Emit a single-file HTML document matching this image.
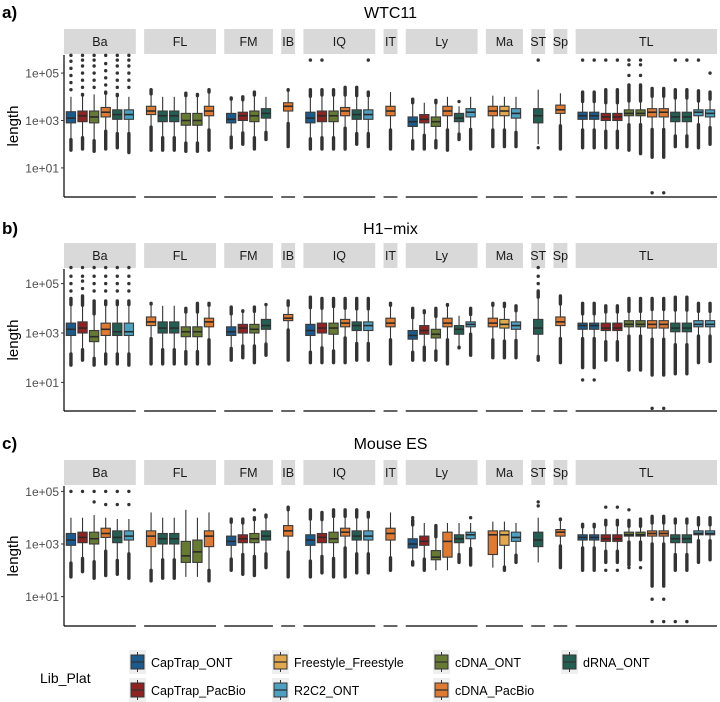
<!DOCTYPE html>
<html><head><meta charset="utf-8"><style>
body{margin:0;background:#fff;width:720px;height:702px;overflow:hidden;font-family:"Liberation Sans",sans-serif}
svg{display:block}
</style></head><body>
<svg id="chart" width="720" height="702" viewBox="0 0 720 702"></svg>
<script>
const facets=["Ba","FL","FM","IB","IQ","IT","Ly","Ma","ST","Sp","TL"];
const yTicks=[1,3,5];
const yTickLabels=["1e+01","1e+03","1e+05"];
const panelTitles=["WTC11","H1\u2212mix","Mouse ES"];
const panelTags=["a)","b)","c)"];
const libCodes=["B","R","F","L","G","O","D"];
const libNames=["CapTrap_ONT","CapTrap_PacBio","Freestyle_Freestyle","R2C2_ONT","cDNA_ONT","cDNA_PacBio","dRNA_ONT"];
const libColors=["#1d5a8c","#8e2323","#e1a84f","#4f9fc0","#667a34","#dd7a34","#245e52"];
// box: [lib, q1, median, q3, lowest, highest, extra points] (log10 length)
const dataA=[
[["B",2.9,3.1,3.37,1.75,4.0,[4.3,4.6,4.9,5.2,5.5,5.75]],["R",2.95,3.2,3.4,1.8,4.1,[4.4,4.7,5.0,5.3,5.55,5.75]],["G",2.9,3.15,3.4,1.7,4.1,[4.4,4.7,5.0,5.3,5.55,5.75]],["O",3.15,3.35,3.55,1.8,4.2,[4.5,4.8,5.1,5.4,5.75]],["D",3.05,3.25,3.45,1.85,4.1,[4.4,4.7,5.0,5.3,5.55,5.75]],["L",3.05,3.25,3.45,1.7,4.0,[4.4,4.7,5.0,5.3,5.55,5.75,1.65]]],
[["O",3.25,3.4,3.6,1.75,4.3,[]],["D",2.95,3.2,3.4,1.75,4.0,[]],["D",2.95,3.2,3.4,1.75,4.0,[]],["G",2.8,3.0,3.3,1.7,4.15,[]],["G",2.8,3.0,3.3,1.7,4.1,[]],["O",3.2,3.4,3.6,1.75,4.3,[]]],
[["B",2.9,3.05,3.3,1.85,3.95,[]],["R",3.0,3.2,3.35,2.0,4.0,[]],["G",2.95,3.2,3.4,1.8,4.2,[]],["D",3.1,3.3,3.5,2.2,4.0,[]]],
[["O",3.4,3.6,3.75,1.9,4.3,[]]],
[["B",2.9,3.1,3.35,1.8,4.3,[5.55]],["R",2.95,3.2,3.4,1.8,4.3,[5.55]],["G",2.95,3.2,3.4,1.8,4.3,[]],["O",3.2,3.4,3.55,1.8,4.4,[]],["D",3.05,3.25,3.45,2.0,4.4,[]],["L",3.05,3.25,3.45,1.9,4.2,[5.55]]],
[["O",3.2,3.4,3.6,1.8,4.2,[]]],
[["B",2.75,2.95,3.15,1.8,3.9,[]],["R",2.9,3.05,3.25,1.8,3.75,[]],["G",2.75,2.95,3.15,1.85,3.85,[]],["O",3.2,3.4,3.6,1.75,4.0,[]],["D",2.95,3.1,3.3,2.2,3.6,[3.8]],["L",3.15,3.35,3.5,1.8,4.0,[]]],
[["O",3.2,3.4,3.6,1.9,4.05,[]],["F",3.2,3.4,3.6,1.9,4.0,[]],["L",3.1,3.3,3.5,1.9,4.0,[]]],
[["D",2.9,3.2,3.5,2.0,4.3,[5.55,1.85]]],
[["O",3.3,3.45,3.65,1.8,4.15,[]]],
[["B",3.05,3.2,3.35,1.85,4.2,[5.55]],["B",3.05,3.2,3.35,1.85,4.2,[5.55]],["R",3.0,3.15,3.3,1.85,4.3,[5.55]],["R",3.0,3.15,3.3,1.85,4.3,[5.55]],["G",3.2,3.3,3.45,1.75,4.5,[5.55,5.35,4.9]],["G",3.2,3.3,3.45,1.6,4.5,[5.55,5.35,4.9]],["O",3.15,3.35,3.5,1.45,4.35,[-0.05]],["O",3.15,3.35,3.5,1.45,4.35,[-0.05]],["D",2.95,3.15,3.35,1.9,4.3,[5.55]],["D",2.95,3.15,3.35,1.9,4.3,[5.55]],["L",3.2,3.35,3.45,1.9,4.25,[5.55,1.85]],["L",3.15,3.3,3.45,2.0,4.2,[5.0]]]
];
const dataB=[
[["B",2.9,3.15,3.4,1.7,4.4,[4.7,5.0,5.3,5.65]],["R",3.0,3.2,3.45,1.9,4.5,[4.8,5.1,5.3,5.65]],["G",2.65,2.85,3.1,1.7,4.3,[4.7,5.0,5.3,5.65]],["O",2.9,3.15,3.4,1.75,4.3,[4.7,5.0,5.3,5.65]],["D",2.9,3.05,3.4,1.75,4.3,[4.7,5.0,5.3,5.65]],["L",2.9,3.05,3.4,1.7,4.3,[4.7,5.0,5.3,5.65]]],
[["O",3.3,3.45,3.65,1.75,4.2,[]],["D",3.0,3.2,3.45,1.75,4.1,[]],["D",3.0,3.2,3.45,1.75,4.1,[]],["G",2.85,3.05,3.25,1.75,4.0,[]],["G",2.85,3.05,3.25,1.75,4.2,[]],["O",3.25,3.45,3.6,1.75,4.2,[]]],
[["B",2.9,3.05,3.25,1.9,4.05,[]],["R",3.0,3.2,3.35,2.0,3.9,[]],["G",3.0,3.15,3.35,1.8,4.05,[]],["D",3.15,3.3,3.55,2.1,4.15,[]]],
[["O",3.5,3.6,3.75,1.9,4.3,[]]],
[["B",2.9,3.1,3.35,1.8,4.45,[]],["R",3.0,3.2,3.4,1.8,4.4,[]],["G",2.95,3.2,3.4,1.8,4.4,[]],["O",3.25,3.4,3.55,1.8,4.4,[]],["D",3.1,3.3,3.45,1.9,4.4,[]],["L",3.1,3.3,3.45,1.9,4.4,[]]],
[["O",3.25,3.4,3.6,1.75,4.2,[]]],
[["B",2.75,2.9,3.1,1.9,4.0,[]],["R",2.95,3.1,3.3,1.9,3.9,[]],["G",2.8,2.95,3.15,1.9,4.0,[]],["O",3.25,3.4,3.6,1.75,4.15,[]],["D",2.95,3.15,3.3,2.4,3.7,[]],["L",3.25,3.35,3.45,2.1,4.0,[]]],
[["O",3.25,3.4,3.6,2.0,4.2,[]],["F",3.2,3.35,3.55,2.0,4.2,[]],["L",3.15,3.3,3.45,2.0,4.1,[]]],
[["D",2.95,3.2,3.55,1.9,4.7,[5.0,5.3,5.65]]],
[["O",3.3,3.45,3.65,1.8,4.5,[]]],
[["B",3.15,3.3,3.4,1.6,4.2,[1.1]],["B",3.15,3.3,3.4,1.6,4.2,[1.1]],["R",3.1,3.2,3.4,1.9,4.1,[]],["R",3.1,3.2,3.4,1.9,4.1,[]],["G",3.25,3.35,3.5,1.5,4.4,[]],["G",3.25,3.35,3.5,1.5,4.4,[]],["O",3.2,3.35,3.5,1.3,4.4,[-0.05]],["O",3.2,3.35,3.5,1.3,4.4,[-0.05]],["D",3.05,3.2,3.4,1.35,4.45,[]],["D",3.05,3.2,3.4,1.35,4.45,[]],["L",3.25,3.35,3.5,1.8,4.2,[]],["L",3.25,3.35,3.5,1.85,4.2,[]]]
];
const dataC=[
[["B",2.95,3.15,3.4,1.75,4.0,[5.0]],["R",3.05,3.25,3.45,1.95,4.0,[5.0]],["G",3.0,3.2,3.45,1.7,4.1,[4.6,5.0]],["O",3.25,3.4,3.6,1.8,4.0,[4.5,5.0]],["D",3.05,3.25,3.5,1.85,3.95,[4.5,5.0]],["L",3.15,3.3,3.5,1.7,3.95,[4.5,5.0]]],
[["O",2.9,3.3,3.5,1.6,4.2,[]],["D",3.0,3.2,3.4,1.7,4.0,[]],["D",3.0,3.2,3.4,1.7,4.0,[]],["G",2.3,2.55,3.1,1.75,4.3,[]],["G",2.3,2.7,3.15,1.75,4.0,[]],["O",2.9,3.3,3.5,1.6,4.2,[]]],
[["B",2.95,3.1,3.3,2.0,3.95,[]],["R",3.05,3.2,3.35,1.85,3.95,[]],["G",3.05,3.2,3.4,1.8,4.0,[4.3]],["D",3.15,3.3,3.5,2.1,4.1,[]]],
[["O",3.3,3.5,3.7,1.75,4.4,[]]],
[["B",2.95,3.15,3.35,1.75,4.3,[]],["R",3.05,3.25,3.4,1.9,4.2,[]],["G",3.05,3.2,3.45,1.75,4.3,[]],["O",3.3,3.45,3.6,1.75,4.3,[]],["D",3.15,3.3,3.5,1.9,4.3,[]],["L",3.15,3.3,3.5,1.9,4.2,[]]],
[["O",3.15,3.4,3.6,2.0,4.2,[]]],
[["B",2.85,3.0,3.2,2.2,3.9,[4.0]],["R",2.95,3.1,3.3,2.0,3.8,[]],["G",2.4,2.5,2.75,2.0,3.7,[]],["O",2.5,3.1,3.45,2.0,3.8,[]],["D",3.05,3.2,3.35,2.3,3.8,[]],["L",3.2,3.35,3.45,2.2,3.8,[4.0]]],
[["O",2.6,3.35,3.5,2.1,3.85,[]],["F",2.95,3.35,3.5,2.0,3.85,[]],["L",3.1,3.25,3.45,2.3,3.8,[]]],
[["D",2.9,3.15,3.45,2.3,4.0,[4.45,4.6]]],
[["O",3.3,3.45,3.55,2.1,3.95,[]]],
[["B",3.15,3.25,3.35,2.0,3.75,[]],["B",3.15,3.25,3.35,2.0,3.75,[]],["R",3.1,3.2,3.35,2.3,3.9,[4.4,2.0]],["R",3.1,3.2,3.35,2.3,3.9,[4.4,2.0]],["G",3.3,3.35,3.45,2.2,3.9,[4.3,2.1]],["G",3.3,3.35,3.45,2.4,3.95,[2.1]],["O",3.3,3.4,3.5,1.4,4.05,[0.9,0.05]],["O",3.3,3.4,3.5,1.4,4.05,[0.9,0.05]],["D",3.05,3.2,3.35,2.0,3.95,[0.05]],["D",3.05,3.2,3.35,2.0,3.95,[0.05]],["L",3.35,3.4,3.5,2.3,4.0,[]],["L",3.35,3.4,3.5,2.4,4.0,[]]]
];
const panelData=[dataA,dataB,dataC];
</script>
<script>
const NS="http://www.w3.org/2000/svg";
const svg=document.getElementById("chart");
function mk(tag,attrs,parent){const e=document.createElementNS(NS,tag);for(const k in attrs)e.setAttribute(k,attrs[k]);(parent||svg).appendChild(e);return e;}
const panels=[
 {title:12,stripTop:29,stripBot:54,top:55,bot:197,y3:120.5,ppd:23.7},
 {title:228,stripTop:243,stripBot:268,top:269,bot:411,y3:333,ppd:24.7},
 {title:443,stripTop:460,stripBot:485,top:486,bot:626,y3:544,ppd:26.3}
];
const X0=64,X1=717,GAP=8.3;
function colorOf(code){return libColors[libCodes.indexOf(code)];}
panels.forEach((P,pi)=>{
 const data=panelData[pi];
 const units=data.map(f=>f.length+0.2);
 const total=units.reduce((a,b)=>a+b,0);
 const unit=(X1-X0-GAP*(facets.length-1))/total;
 const yS=v=>P.y3-(v-3)*P.ppd;
 const g=mk("g",{});
 
 
 const tag=mk("text",{x:2,y:P.title+6,"font-size":17,"font-weight":"bold",fill:"#000"},g);tag.textContent=panelTags[pi];
 
 
 const tt=mk("text",{x:(X0+X1)/2,y:P.title+6,"font-size":16,"text-anchor":"middle",fill:"#000"},g);tt.textContent=panelTitles[pi];
 
 
 const ax=mk("line",{x1:X0,x2:X0,y1:P.top,y2:P.bot,stroke:"#000","stroke-width":1.2},g);
 
 
 yTicks.forEach((t,i)=>{
  const y=yS(t);
  mk("line",{x1:X0-3,x2:X0,y1:y,y2:y,stroke:"#333"},g);
  const l=mk("text",{x:X0-5,y:y+4.5,"font-size":12,"text-anchor":"end",fill:"#4d4d4d"},g);l.textContent=yTickLabels[i];
  
  
 });
 const yl=mk("text",{x:0,y:0,"font-size":15,"text-anchor":"middle",fill:"#000",transform:`translate(18,${(P.top+P.bot)/2}) rotate(-90)`},g);yl.textContent="length";
 
 
 let fx=X0;
 data.forEach((boxes,fi)=>{
  const w=units[fi]*unit;
  const s=mk("rect",{x:fx,y:P.stripTop,width:w,height:P.stripBot-P.stripTop,fill:"#d9d9d9"},g);
  
  
  const st=mk("text",{x:fx+w/2,y:(P.stripTop+P.stripBot)/2+4.5,"font-size":12.5,"text-anchor":"middle",fill:"#1a1a1a"},g);st.textContent=facets[fi];
  
  
  const bl=mk("line",{x1:fx,x2:fx+w,y1:P.bot,y2:P.bot,stroke:"#000","stroke-width":1.2},g);
  
  
  boxes.forEach((b,bi)=>{
   const [code,q1,med,q3,lo,hi,pts]=b;
   const cx=fx+(0.6+bi)*unit, bw=unit*0.8;
   const iqr=q3-q1;
   const wlo=Math.max(lo,q1-1.5*iqr), whi=Math.min(hi,q3+1.5*iqr);
   const bg=mk("g",{},g);
   
   
   mk("line",{x1:cx,x2:cx,y1:yS(whi),y2:yS(wlo),stroke:"#333","stroke-width":1.1},bg);
   if(hi>whi) mk("line",{x1:cx,x2:cx,y1:yS(hi),y2:yS(whi),stroke:"#333","stroke-width":3.4,"stroke-linecap":"round"},bg);
   if(lo<wlo) mk("line",{x1:cx,x2:cx,y1:yS(wlo),y2:yS(lo),stroke:"#333","stroke-width":3.4,"stroke-linecap":"round"},bg);
   mk("rect",{x:cx-bw/2,y:yS(q3),width:bw,height:Math.max(1,yS(q1)-yS(q3)),fill:colorOf(code),stroke:"#3a3a3a","stroke-width":1.1},bg);
   mk("line",{x1:cx-bw/2,x2:cx+bw/2,y1:yS(med),y2:yS(med),stroke:"#2a2a2a","stroke-width":1.6},bg);
   pts.forEach(p=>mk("circle",{cx:cx,cy:yS(p),r:1.7,fill:"#333"},bg));
  });
  fx+=w+GAP;
 });
});
const lg=mk("g",{});


const lt=mk("text",{x:40,y:683,"font-size":14,fill:"#000"},lg);lt.textContent="Lib_Plat";


const order=[0,1,2,3,4,5,6];
const colX=[129,272,433,561];
order.forEach((li,k)=>{
 const col=Math.floor(k/2), row=k%2;
 const x=colX[col], y=row?690:662;
 const e=mk("g",{},lg);
 
 
 mk("rect",{x:x,y:y-12,width:17,height:24,fill:"#efefef"},e);
 mk("line",{x1:x+8.5,x2:x+8.5,y1:y-10,y2:y+10,stroke:"#333"},e);
 mk("rect",{x:x+2,y:y-7,width:13,height:14,fill:libColors[li],stroke:"#333"},e);
 mk("line",{x1:x+2,x2:x+15,y1:y,y2:y,stroke:"#333","stroke-width":1.3},e);
 const t=mk("text",{x:x+22,y:y+5,"font-size":12.5,fill:"#000"},e);t.textContent=libNames[li];
});
</script>
</body></html>
